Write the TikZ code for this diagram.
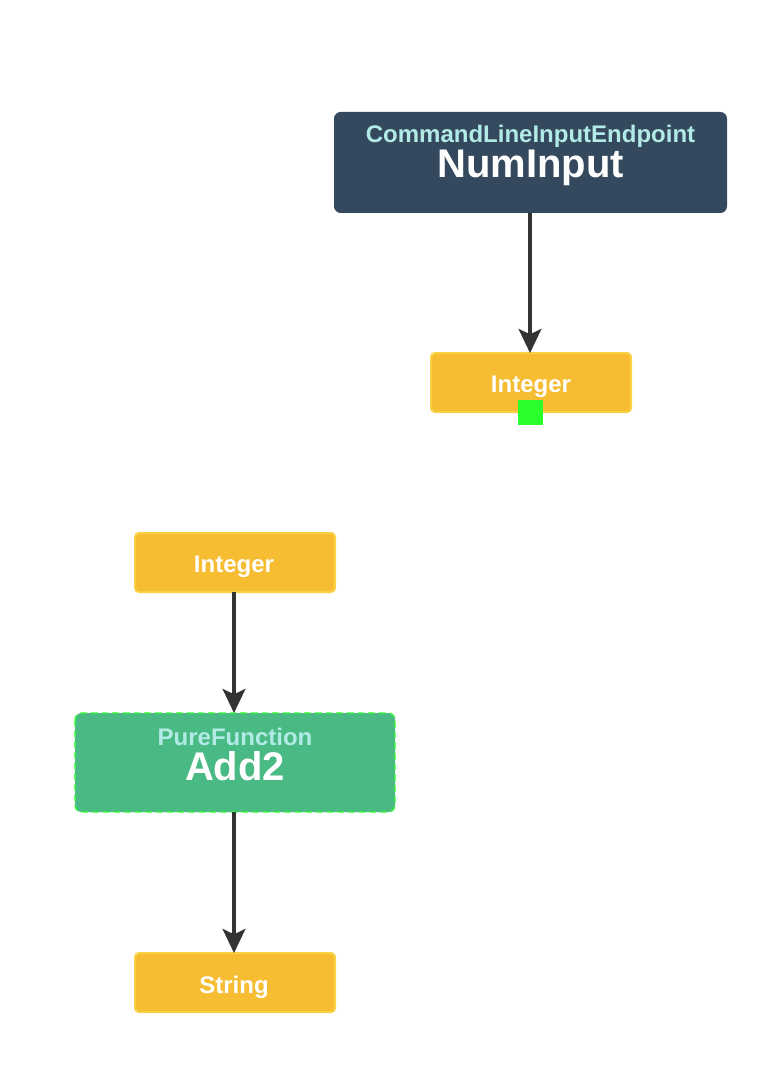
\documentclass[tikz,border=0pt]{standalone}
\usepackage{fontspec}
\setmainfont{Liberation Sans}
\usetikzlibrary{arrows.meta}
\definecolor{slate}{HTML}{34495E}
\definecolor{gold}{HTML}{F6BD33}
\definecolor{goldedge}{HTML}{FAD145}
\definecolor{teal}{HTML}{4ABA84}
\definecolor{lime}{HTML}{33FF33}
\definecolor{sq}{HTML}{2BFF2B}
\definecolor{cyanlab}{HTML}{B2EBE6}
\definecolor{arr}{HTML}{333333}
\tikzset{
  typebox/.style={draw=goldedge, line width=1.5pt, fill=gold, rounded corners=3pt},
  typetext/.style={text=white, font=\fontsize{18}{21}\selectfont\bfseries},
  kindtext/.style={text=cyanlab, font=\fontsize{18}{21}\selectfont\bfseries},
  nametext/.style={text=white, font=\fontsize{30}{33}\selectfont\bfseries},
  flow/.style={draw=arr, line width=3pt, -{Stealth[length=18pt,width=17pt,inset=4pt]}},
}
\begin{document}
\begin{tikzpicture}[x=0.75pt,y=-0.75pt]
\useasboundingbox (0,0) rectangle (782,1084);
% NumInput
\path[fill=slate, rounded corners=5pt] (334,112) rectangle (727,213);
\node[kindtext] (k1) at (530.5,136.5) {CommandLineInputEndpoint};
\node[nametext] (n1) at (530.5,168) {NumInput};
\coordinate (b1) at (530,213);
% Integer 1
\path[typebox] (431,353) rectangle (631,412);
\node[typetext] (t1) at (531,387) {Integer};
\coordinate (t1top) at (530,353);
\path[fill=sq] (518,400) rectangle (543,425);
% Integer 2
\path[typebox] (135,533) rectangle (335,592);
\node[typetext] (t2) at (234,567) {Integer};
\coordinate (t2bot) at (234,592);
% Add2
\path[fill=teal, draw=lime, line width=1pt, dash pattern=on 5pt off 3pt, rounded corners=5pt] (75,713) rectangle (395,812);
\node[kindtext] (k2) at (235,737) {PureFunction};
\node[nametext] (n2) at (235,766) {Add2};
\coordinate (a2top) at (234,713);
\coordinate (a2bot) at (234,812);
% String
\path[typebox] (135,953) rectangle (335,1012);
\node[typetext] (t3) at (234,987) {String};
\coordinate (t3top) at (234,953);
% arrows
\draw[flow] (b1) -- (t1top);
\draw[flow] (t2bot) -- (a2top);
\draw[flow] (a2bot) -- (t3top);
\end{tikzpicture}
\end{document}
